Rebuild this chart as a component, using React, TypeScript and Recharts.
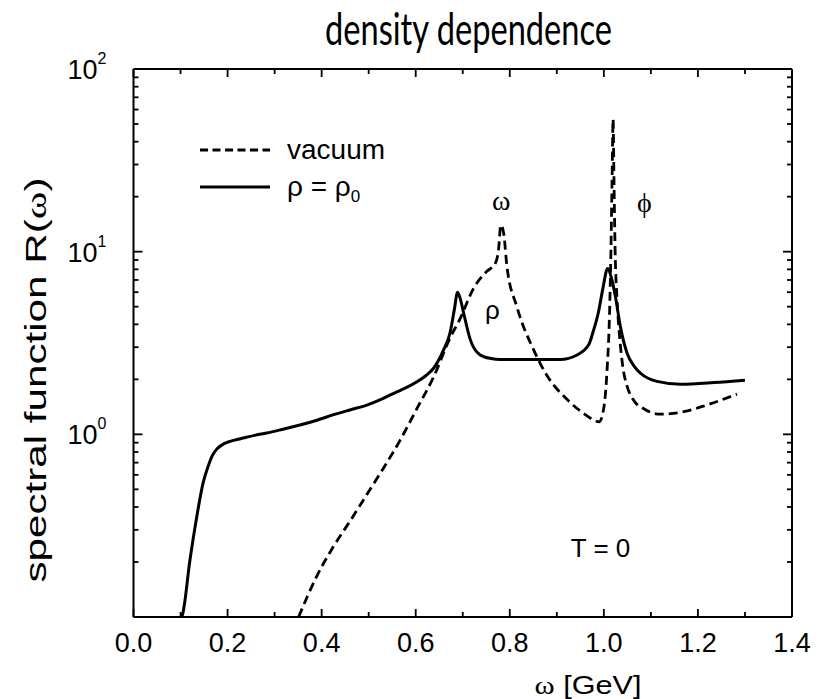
import React from 'react';
import { LineChart, Line, XAxis, YAxis, ReferenceDot, Legend, Customized } from 'recharts';

// spectral function, vacuum (dashed)
const vacuumOmega = [0.351, 0.39, 0.425, 0.461, 0.496, 0.532, 0.567, 0.603, 0.638, 0.673, 0.695, 0.723, 0.751, 0.769, 0.776, 0.781, 0.787, 0.794, 0.815, 0.851, 0.879, 0.922, 0.957, 0.978, 0.99, 1.0, 1.007, 1.012, 1.015, 1.0175, 1.0196, 1.0215, 1.024, 1.028, 1.035, 1.042, 1.049, 1.063, 1.085, 1.12, 1.17, 1.22, 1.283];
const vacuumR = [0.1, 0.168, 0.243, 0.337, 0.468, 0.657, 0.93, 1.39, 2.06, 3.37, 4.33, 6.3, 7.8, 8.6, 10.2, 14.0, 12.6, 8.3, 5.0, 2.89, 2.1, 1.55, 1.3, 1.2, 1.17, 1.4, 2.3, 4.5, 10, 25, 53, 25, 10, 5.5, 3.1, 2.2, 1.85, 1.54, 1.38, 1.29, 1.33, 1.45, 1.66];

// spectral function at normal nuclear density (solid)
const mediumOmega = [0.1026, 0.105, 0.12, 0.1345, 0.148, 0.158, 0.167, 0.177, 0.188, 0.2, 0.215, 0.233, 0.26, 0.283, 0.32, 0.354, 0.39, 0.424, 0.46, 0.496, 0.53, 0.56, 0.585, 0.6026, 0.622, 0.638, 0.659, 0.673, 0.682, 0.689, 0.695, 0.702, 0.716, 0.737, 0.76, 0.78, 0.851, 0.907, 0.943, 0.968, 0.978, 0.988, 0.998, 1.008, 1.016, 1.025, 1.035, 1.049, 1.065, 1.078, 1.113, 1.163, 1.234, 1.3];
const mediumR = [0.1, 0.105, 0.205, 0.354, 0.542, 0.66, 0.76, 0.83, 0.875, 0.905, 0.93, 0.954, 0.99, 1.016, 1.07, 1.124, 1.195, 1.277, 1.36, 1.446, 1.57, 1.71, 1.83, 1.94, 2.1, 2.3, 2.89, 3.6, 4.8, 6.0, 5.5, 4.6, 3.3, 2.72, 2.6, 2.57, 2.57, 2.57, 2.72, 3.1, 3.7, 4.6, 6.3, 8.1, 7.2, 5.6, 3.9, 2.8, 2.35, 2.16, 1.95, 1.88, 1.92, 1.98];

const xTicks = [0, 0.1, 0.2, 0.3, 0.4, 0.5, 0.6, 0.7, 0.8, 0.9, 1.0, 1.1, 1.2, 1.3, 1.4];
const xTickLabels = ['0.0', '', '0.2', '', '0.4', '', '0.6', '', '0.8', '', '1.0', '', '1.2', '', '1.4'];
const yTicks = [0.1, 0.2, 0.3, 0.4, 0.5, 0.6, 0.7, 0.8, 0.9, 1, 2, 3, 4, 5, 6, 7, 8, 9, 10, 20, 30, 40, 50, 60, 70, 80, 90, 100];
const yDecades = [0.1, 1, 10, 100];
const yExponents = ['', '0', '1', '2'];

const seriesNames = ['vacuum', 'medium'];
const legendLabels = ['vacuum', 'ρ = ρ'];
const annotations = [
  { x: 0.782, y: 19.2, text: 'ω', serif: true },
  { x: 1.086, y: 18.8, text: 'ϕ', serif: true },
  { x: 0.763, y: 4.8, text: 'ρ', serif: false },
  { x: 0.993, y: 0.24, text: 'T = 0', serif: false },
];

const vacuumData = vacuumOmega.map((w, i) => ({ omega: w, r: vacuumR[i] }));
const mediumData = mediumOmega.map((w, i) => ({ omega: w, r: mediumR[i] }));

const FONT = '"Liberation Sans", Arial, Helvetica, sans-serif';
const SERIF = '"Liberation Serif", "Times New Roman", serif';
const TICK_W = 1.8;
const TICK_C = '#000';
const MAJOR = 8;
const MINOR = 5;

const BottomTick = ({ x, y, payload }: any) => {
  const label = xTickLabels[xTicks.indexOf(payload.value)];
  const major = !!label;
  return (
    <g>
      <line x1={x} y1={y} x2={x} y2={y - (major ? MAJOR : MINOR)} stroke={TICK_C} strokeWidth={TICK_W} />
      {major && (
        <text x={x} y={y + 35} textAnchor="middle" fontSize={27} fontFamily={FONT} fill="#000">
          {label}
        </text>
      )}
    </g>
  );
};

const TopTick = ({ x, y, payload }: any) => {
  const major = !!xTickLabels[xTicks.indexOf(payload.value)];
  return (
    <g>
      <line x1={x} y1={y} x2={x} y2={y + (major ? MAJOR : MINOR)} stroke={TICK_C} strokeWidth={TICK_W} />
    </g>
  );
};

const LeftTick = ({ x, y, payload }: any) => {
  const i = yDecades.indexOf(payload.value);
  return (
    <g>
      <line x1={x} y1={y} x2={x + (i >= 0 ? MAJOR + 1 : MINOR)} y2={y} stroke={TICK_C} strokeWidth={TICK_W} />
      {i > 0 && (
        <text x={x - 27} y={y + 10} textAnchor="end" fontSize={27} fontFamily={FONT} fill="#000">
          10<tspan dy={-15} fontSize={16}>{yExponents[i]}</tspan>
        </text>
      )}
    </g>
  );
};

const RightTick = ({ x, y, payload }: any) => {
  const major = yDecades.indexOf(payload.value) >= 0;
  return (
    <g>
      <line x1={x} y1={y} x2={x - (major ? MAJOR + 1 : MINOR)} y2={y} stroke={TICK_C} strokeWidth={TICK_W} />
    </g>
  );
};

const LegendContent = ({ payload }: any) => {
  const items = [...(payload || [])].sort(
    (a: any, b: any) => seriesNames.indexOf(a.value) - seriesNames.indexOf(b.value)
  );
  return (
    <svg width={260} height={80}>
      {items.map((entry: any, i: number) => {
        const k = seriesNames.indexOf(entry.value);
        return (
          <g key={i}>
            <line x1={5} x2={75} y1={20 + i * 37} y2={20 + i * 37} stroke="#000" strokeWidth={2.8}
              strokeDasharray={k === 0 ? '8 4.5' : undefined} />
            <text x={92} y={29 + i * 37} fontSize={28} fontFamily={FONT} fill="#000">
              {legendLabels[k]}
              {k === 1 && <tspan dy={6} fontSize={17}>0</tspan>}
            </text>
          </g>
        );
      })}
    </svg>
  );
};

const Texts = () => (
  <g>
    <text x={468.5} y={45} textAnchor="middle" fontSize={45} fontFamily="Lato, sans-serif" fill="#000"
      textLength={287} lengthAdjust="spacingAndGlyphs">
      density dependence
    </text>
    <text transform="translate(46,380) rotate(-90)" textAnchor="middle" fontSize={30} fontFamily={FONT} fill="#000"
      textLength={405} lengthAdjust="spacingAndGlyphs">
      spectral function R(<tspan fontFamily={SERIF}>ω</tspan>)
    </text>
    <text x={588} y={694} textAnchor="middle" fontSize={25} fontFamily={FONT} fill="#000"
      textLength={107} lengthAdjust="spacingAndGlyphs">
      <tspan fontFamily={SERIF}>ω</tspan> [GeV]
    </text>
  </g>
);

export default function App() {
  return (
    <div style={{ position: 'absolute', left: 0, top: 0, width: 822, height: 699, background: '#fff' }}>
      <LineChart width={822} height={699} margin={{ top: 68, right: 29, bottom: 81, left: 132.5 }}>
        <XAxis xAxisId="bottom" dataKey="omega" type="number" domain={[0, 1.4]} ticks={xTicks} interval={0}
          height={1} tickSize={0} tickMargin={0} tickLine={false} tick={BottomTick}
          axisLine={{ stroke: '#000', strokeWidth: 2 }} allowDataOverflow />
        <XAxis xAxisId="top" orientation="top" dataKey="omega" type="number" domain={[0, 1.4]} ticks={xTicks} interval={0}
          height={1} tickSize={0} tickMargin={0} tickLine={false} tick={TopTick}
          axisLine={{ stroke: '#000', strokeWidth: 2 }} allowDataOverflow />
        <YAxis yAxisId="left" type="number" scale="log" domain={[0.1, 100]} ticks={yTicks} interval={0}
          width={1} tickSize={0} tickMargin={0} tickLine={false} tick={LeftTick}
          axisLine={{ stroke: '#000', strokeWidth: 2 }} allowDataOverflow />
        <YAxis yAxisId="right" orientation="right" type="number" scale="log" domain={[0.1, 100]} ticks={yTicks} interval={0}
          width={1} tickSize={0} tickMargin={0} tickLine={false} tick={RightTick}
          axisLine={{ stroke: '#000', strokeWidth: 2 }} allowDataOverflow />
        <Line xAxisId="bottom" yAxisId="left" data={vacuumData} dataKey="r" name="vacuum" type="monotone"
          stroke="#000" strokeWidth={2.8} strokeDasharray="9 5" dot={false} isAnimationActive={false} />
        <Line xAxisId="bottom" yAxisId="left" data={mediumData} dataKey="r" name="medium" type="monotone"
          stroke="#000" strokeWidth={3} dot={false} isAnimationActive={false} />
        {annotations.map((a, i) => (
          <ReferenceDot key={i} xAxisId="bottom" yAxisId="left" x={a.x} y={a.y} r={0} stroke="none" fill="none"
            label={{ value: a.text, position: 'center', fontSize: a.serif ? 28 : 26, fill: '#000', fontFamily: a.serif ? SERIF : FONT }} />
        ))}
        <Legend layout="vertical" align="center" verticalAlign="middle" content={LegendContent}
          wrapperStyle={{ left: 195, top: 130, width: 260, height: 80 }} />
        <Customized component={Texts} />
      </LineChart>
    </div>
  );
}
